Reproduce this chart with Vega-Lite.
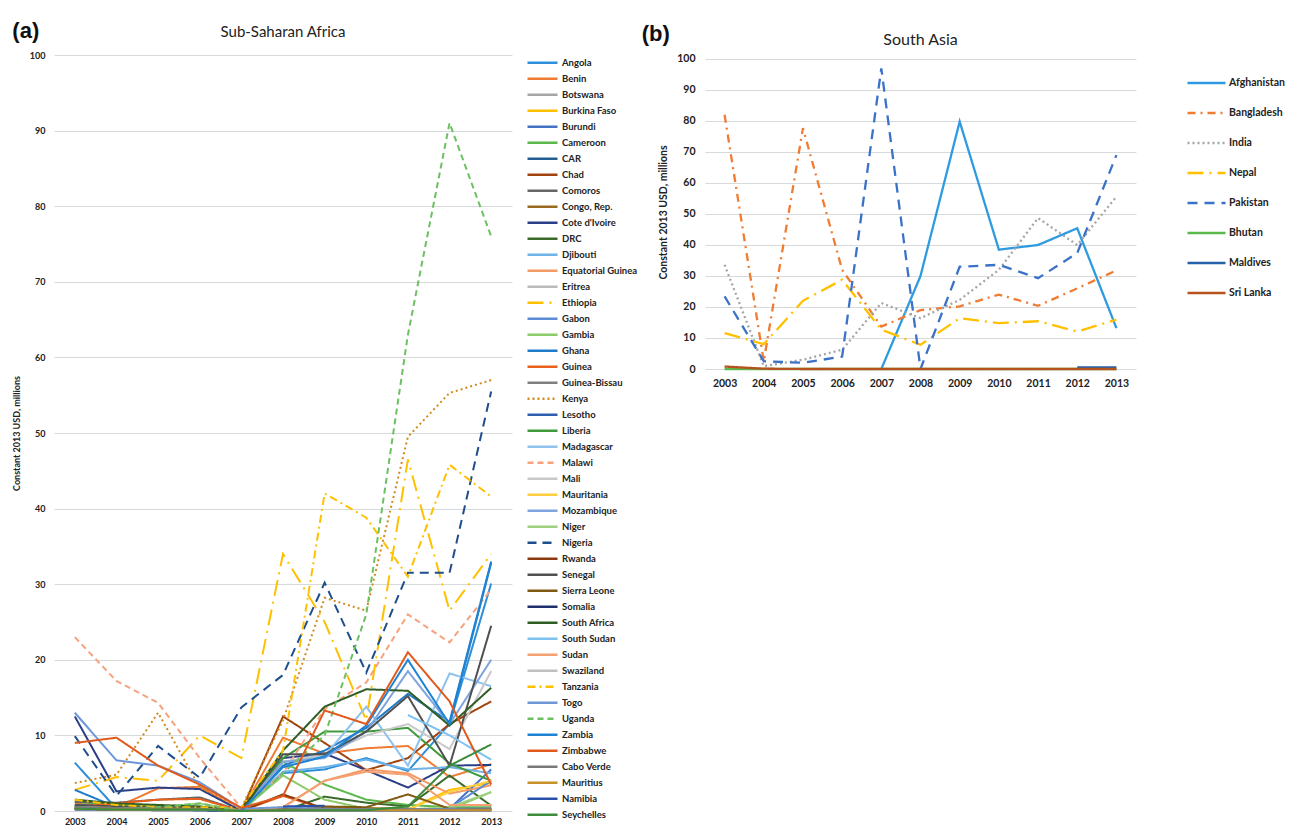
{
  "$schema": "https://vega.github.io/schema/vega-lite/v6.json",
  "background": "white",
  "padding": {"left": 12, "top": 20, "right": 0, "bottom": 0},
  "config": {
    "font": "Lato",
    "view": {"stroke": null},
    "axis": {"labelFont": "Lato", "labelFontWeight": "bold", "labelColor": "#222", "titleFont": "Lato", "titleFontWeight": "bold", "titleColor": "#222", "gridColor": "#d6dadd", "gridWidth": 1, "domain": false, "ticks": false},
    "legend": {"labelFont": "Lato", "labelFontWeight": "bold", "labelColor": "#222"},
    "title": {"font": "Lato", "color": "#222"}
  },
  "datasets": {
    "ssa": [
      {"c":"Angola","y":2003,"v":6.4},{"c":"Angola","y":2004,"v":0.3},{"c":"Angola","y":2005,"v":0.2},{"c":"Angola","y":2006,"v":0.2},{"c":"Angola","y":2007,"v":0},{"c":"Angola","y":2008,"v":5},{"c":"Angola","y":2009,"v":5.5},{"c":"Angola","y":2010,"v":7},{"c":"Angola","y":2011,"v":5.3},{"c":"Angola","y":2012,"v":11.5},{"c":"Angola","y":2013,"v":30.1},
      {"c":"Benin","y":2003,"v":1},{"c":"Benin","y":2004,"v":0.5},{"c":"Benin","y":2005,"v":3},{"c":"Benin","y":2006,"v":3.2},{"c":"Benin","y":2007,"v":0},{"c":"Benin","y":2008,"v":9.7},{"c":"Benin","y":2009,"v":7.6},{"c":"Benin","y":2010,"v":8.3},{"c":"Benin","y":2011,"v":8.6},{"c":"Benin","y":2012,"v":4.5},{"c":"Benin","y":2013,"v":6.2},
      {"c":"Botswana","y":2003,"v":0.4},{"c":"Botswana","y":2004,"v":0.3},{"c":"Botswana","y":2005,"v":0.2},{"c":"Botswana","y":2006,"v":0.3},{"c":"Botswana","y":2007,"v":0},{"c":"Botswana","y":2008,"v":0.1},{"c":"Botswana","y":2009,"v":0.1},{"c":"Botswana","y":2010,"v":0.2},{"c":"Botswana","y":2011,"v":0.1},{"c":"Botswana","y":2012,"v":0.3},{"c":"Botswana","y":2013,"v":0.4},
      {"c":"Burkina Faso","y":2003,"v":1.5},{"c":"Burkina Faso","y":2004,"v":0.8},{"c":"Burkina Faso","y":2005,"v":0.6},{"c":"Burkina Faso","y":2006,"v":0.5},{"c":"Burkina Faso","y":2007,"v":0},{"c":"Burkina Faso","y":2008,"v":0.2},{"c":"Burkina Faso","y":2009,"v":0.3},{"c":"Burkina Faso","y":2010,"v":0.2},{"c":"Burkina Faso","y":2011,"v":0.2},{"c":"Burkina Faso","y":2012,"v":2.8},{"c":"Burkina Faso","y":2013,"v":3.7},
      {"c":"Burundi","y":2003,"v":0.8},{"c":"Burundi","y":2004,"v":0.5},{"c":"Burundi","y":2005,"v":0.4},{"c":"Burundi","y":2006,"v":0.3},{"c":"Burundi","y":2007,"v":0},{"c":"Burundi","y":2008,"v":0.3},{"c":"Burundi","y":2009,"v":0.4},{"c":"Burundi","y":2010,"v":0.3},{"c":"Burundi","y":2011,"v":0.2},{"c":"Burundi","y":2012,"v":0.3},{"c":"Burundi","y":2013,"v":5.5},
      {"c":"Cameroon","y":2003,"v":1.2},{"c":"Cameroon","y":2004,"v":0.8},{"c":"Cameroon","y":2005,"v":0.5},{"c":"Cameroon","y":2006,"v":0.4},{"c":"Cameroon","y":2007,"v":0},{"c":"Cameroon","y":2008,"v":6.5},{"c":"Cameroon","y":2009,"v":3.5},{"c":"Cameroon","y":2010,"v":1.5},{"c":"Cameroon","y":2011,"v":0.8},{"c":"Cameroon","y":2012,"v":0.5},{"c":"Cameroon","y":2013,"v":0.5},
      {"c":"CAR","y":2003,"v":0.3},{"c":"CAR","y":2004,"v":0.2},{"c":"CAR","y":2005,"v":0.2},{"c":"CAR","y":2006,"v":0.1},{"c":"CAR","y":2007,"v":0},{"c":"CAR","y":2008,"v":0.2},{"c":"CAR","y":2009,"v":0.1},{"c":"CAR","y":2010,"v":0.1},{"c":"CAR","y":2011,"v":0.1},{"c":"CAR","y":2012,"v":0.1},{"c":"CAR","y":2013,"v":0.2},
      {"c":"Chad","y":2003,"v":0.5},{"c":"Chad","y":2004,"v":0.3},{"c":"Chad","y":2005,"v":0.2},{"c":"Chad","y":2006,"v":0.2},{"c":"Chad","y":2007,"v":0},{"c":"Chad","y":2008,"v":12.5},{"c":"Chad","y":2009,"v":9},{"c":"Chad","y":2010,"v":5.4},{"c":"Chad","y":2011,"v":7},{"c":"Chad","y":2012,"v":11.5},{"c":"Chad","y":2013,"v":14.5},
      {"c":"Comoros","y":2003,"v":1.2},{"c":"Comoros","y":2004,"v":1.1},{"c":"Comoros","y":2005,"v":1.5},{"c":"Comoros","y":2006,"v":1.8},{"c":"Comoros","y":2007,"v":0},{"c":"Comoros","y":2008,"v":0.3},{"c":"Comoros","y":2009,"v":0.2},{"c":"Comoros","y":2010,"v":0.2},{"c":"Comoros","y":2011,"v":0.2},{"c":"Comoros","y":2012,"v":0.3},{"c":"Comoros","y":2013,"v":0.3},
      {"c":"Congo, Rep.","y":2003,"v":0.3},{"c":"Congo, Rep.","y":2004,"v":0.2},{"c":"Congo, Rep.","y":2005,"v":0.2},{"c":"Congo, Rep.","y":2006,"v":0.2},{"c":"Congo, Rep.","y":2007,"v":0},{"c":"Congo, Rep.","y":2008,"v":0.1},{"c":"Congo, Rep.","y":2009,"v":0.5},{"c":"Congo, Rep.","y":2010,"v":0.4},{"c":"Congo, Rep.","y":2011,"v":0.3},{"c":"Congo, Rep.","y":2012,"v":0.2},{"c":"Congo, Rep.","y":2013,"v":0.2},
      {"c":"Cote d'Ivoire","y":2003,"v":12.5},{"c":"Cote d'Ivoire","y":2004,"v":2.6},{"c":"Cote d'Ivoire","y":2005,"v":3.1},{"c":"Cote d'Ivoire","y":2006,"v":2.9},{"c":"Cote d'Ivoire","y":2007,"v":0},{"c":"Cote d'Ivoire","y":2008,"v":7},{"c":"Cote d'Ivoire","y":2009,"v":7.6},{"c":"Cote d'Ivoire","y":2010,"v":5.4},{"c":"Cote d'Ivoire","y":2011,"v":3.1},{"c":"Cote d'Ivoire","y":2012,"v":6},{"c":"Cote d'Ivoire","y":2013,"v":6.1},
      {"c":"DRC","y":2003,"v":0.5},{"c":"DRC","y":2004,"v":0.3},{"c":"DRC","y":2005,"v":0.3},{"c":"DRC","y":2006,"v":0.2},{"c":"DRC","y":2007,"v":0},{"c":"DRC","y":2008,"v":0},{"c":"DRC","y":2009,"v":1.9},{"c":"DRC","y":2010,"v":1.1},{"c":"DRC","y":2011,"v":0.6},{"c":"DRC","y":2012,"v":4.7},{"c":"DRC","y":2013,"v":0.7},
      {"c":"Djibouti","y":2003,"v":0.3},{"c":"Djibouti","y":2004,"v":0.2},{"c":"Djibouti","y":2005,"v":0.2},{"c":"Djibouti","y":2006,"v":0.2},{"c":"Djibouti","y":2007,"v":0},{"c":"Djibouti","y":2008,"v":5.2},{"c":"Djibouti","y":2009,"v":5.8},{"c":"Djibouti","y":2010,"v":6.8},{"c":"Djibouti","y":2011,"v":5.5},{"c":"Djibouti","y":2012,"v":5.8},{"c":"Djibouti","y":2013,"v":5},
      {"c":"Equatorial Guinea","y":2003,"v":0.4},{"c":"Equatorial Guinea","y":2004,"v":0.3},{"c":"Equatorial Guinea","y":2005,"v":0.2},{"c":"Equatorial Guinea","y":2006,"v":0.2},{"c":"Equatorial Guinea","y":2007,"v":0},{"c":"Equatorial Guinea","y":2008,"v":0.5},{"c":"Equatorial Guinea","y":2009,"v":4},{"c":"Equatorial Guinea","y":2010,"v":5.5},{"c":"Equatorial Guinea","y":2011,"v":5},{"c":"Equatorial Guinea","y":2012,"v":2.3},{"c":"Equatorial Guinea","y":2013,"v":3.4},
      {"c":"Eritrea","y":2003,"v":0.2},{"c":"Eritrea","y":2004,"v":0.2},{"c":"Eritrea","y":2005,"v":0.1},{"c":"Eritrea","y":2006,"v":0.1},{"c":"Eritrea","y":2007,"v":0},{"c":"Eritrea","y":2008,"v":0.1},{"c":"Eritrea","y":2009,"v":0.1},{"c":"Eritrea","y":2010,"v":0.1},{"c":"Eritrea","y":2011,"v":0.1},{"c":"Eritrea","y":2012,"v":0.1},{"c":"Eritrea","y":2013,"v":0.2},
      {"c":"Ethiopia","y":2003,"v":2.8},{"c":"Ethiopia","y":2004,"v":4.5},{"c":"Ethiopia","y":2005,"v":4},{"c":"Ethiopia","y":2006,"v":10},{"c":"Ethiopia","y":2007,"v":7},{"c":"Ethiopia","y":2008,"v":34},{"c":"Ethiopia","y":2009,"v":25},{"c":"Ethiopia","y":2010,"v":12},{"c":"Ethiopia","y":2011,"v":46.5},{"c":"Ethiopia","y":2012,"v":26.5},{"c":"Ethiopia","y":2013,"v":34},
      {"c":"Gabon","y":2003,"v":0.3},{"c":"Gabon","y":2004,"v":0.2},{"c":"Gabon","y":2005,"v":0.2},{"c":"Gabon","y":2006,"v":0.1},{"c":"Gabon","y":2007,"v":0},{"c":"Gabon","y":2008,"v":0.1},{"c":"Gabon","y":2009,"v":0.1},{"c":"Gabon","y":2010,"v":0.1},{"c":"Gabon","y":2011,"v":0.1},{"c":"Gabon","y":2012,"v":0.4},{"c":"Gabon","y":2013,"v":4},
      {"c":"Gambia","y":2003,"v":0.4},{"c":"Gambia","y":2004,"v":0.3},{"c":"Gambia","y":2005,"v":0.3},{"c":"Gambia","y":2006,"v":0.6},{"c":"Gambia","y":2007,"v":0},{"c":"Gambia","y":2008,"v":4.7},{"c":"Gambia","y":2009,"v":1.5},{"c":"Gambia","y":2010,"v":0.3},{"c":"Gambia","y":2011,"v":0.2},{"c":"Gambia","y":2012,"v":0.2},{"c":"Gambia","y":2013,"v":2.5},
      {"c":"Ghana","y":2003,"v":2.8},{"c":"Ghana","y":2004,"v":0.5},{"c":"Ghana","y":2005,"v":0.3},{"c":"Ghana","y":2006,"v":0.2},{"c":"Ghana","y":2007,"v":0},{"c":"Ghana","y":2008,"v":6},{"c":"Ghana","y":2009,"v":8},{"c":"Ghana","y":2010,"v":11},{"c":"Ghana","y":2011,"v":15.5},{"c":"Ghana","y":2012,"v":11.8},{"c":"Ghana","y":2013,"v":33},
      {"c":"Guinea","y":2003,"v":0.5},{"c":"Guinea","y":2004,"v":1},{"c":"Guinea","y":2005,"v":1.5},{"c":"Guinea","y":2006,"v":1.6},{"c":"Guinea","y":2007,"v":0},{"c":"Guinea","y":2008,"v":2},{"c":"Guinea","y":2009,"v":0.3},{"c":"Guinea","y":2010,"v":0.2},{"c":"Guinea","y":2011,"v":0.2},{"c":"Guinea","y":2012,"v":0.2},{"c":"Guinea","y":2013,"v":0.3},
      {"c":"Guinea-Bissau","y":2003,"v":0.3},{"c":"Guinea-Bissau","y":2004,"v":0.2},{"c":"Guinea-Bissau","y":2005,"v":0.2},{"c":"Guinea-Bissau","y":2006,"v":0.2},{"c":"Guinea-Bissau","y":2007,"v":0},{"c":"Guinea-Bissau","y":2008,"v":0.1},{"c":"Guinea-Bissau","y":2009,"v":0.1},{"c":"Guinea-Bissau","y":2010,"v":0.1},{"c":"Guinea-Bissau","y":2011,"v":0.1},{"c":"Guinea-Bissau","y":2012,"v":0.1},{"c":"Guinea-Bissau","y":2013,"v":0.1},
      {"c":"Kenya","y":2003,"v":3.7},{"c":"Kenya","y":2004,"v":4.8},{"c":"Kenya","y":2005,"v":13},{"c":"Kenya","y":2006,"v":3.1},{"c":"Kenya","y":2007,"v":0.4},{"c":"Kenya","y":2008,"v":12},{"c":"Kenya","y":2009,"v":28.2},{"c":"Kenya","y":2010,"v":26.5},{"c":"Kenya","y":2011,"v":49.5},{"c":"Kenya","y":2012,"v":55.3},{"c":"Kenya","y":2013,"v":57},
      {"c":"Lesotho","y":2003,"v":0.3},{"c":"Lesotho","y":2004,"v":0.2},{"c":"Lesotho","y":2005,"v":0.2},{"c":"Lesotho","y":2006,"v":0.2},{"c":"Lesotho","y":2007,"v":0},{"c":"Lesotho","y":2008,"v":0.1},{"c":"Lesotho","y":2009,"v":0.1},{"c":"Lesotho","y":2010,"v":0.1},{"c":"Lesotho","y":2011,"v":0.1},{"c":"Lesotho","y":2012,"v":0.1},{"c":"Lesotho","y":2013,"v":0.1},
      {"c":"Liberia","y":2003,"v":0.6},{"c":"Liberia","y":2004,"v":0.4},{"c":"Liberia","y":2005,"v":0.3},{"c":"Liberia","y":2006,"v":0.3},{"c":"Liberia","y":2007,"v":0},{"c":"Liberia","y":2008,"v":7},{"c":"Liberia","y":2009,"v":10.5},{"c":"Liberia","y":2010,"v":10.5},{"c":"Liberia","y":2011,"v":11},{"c":"Liberia","y":2012,"v":6.3},{"c":"Liberia","y":2013,"v":4},
      {"c":"Madagascar","y":2003,"v":0.5},{"c":"Madagascar","y":2004,"v":0.3},{"c":"Madagascar","y":2005,"v":0.3},{"c":"Madagascar","y":2006,"v":0.3},{"c":"Madagascar","y":2007,"v":0},{"c":"Madagascar","y":2008,"v":6.5},{"c":"Madagascar","y":2009,"v":7.3},{"c":"Madagascar","y":2010,"v":13.8},{"c":"Madagascar","y":2011,"v":6},{"c":"Madagascar","y":2012,"v":18.2},{"c":"Madagascar","y":2013,"v":16.5},
      {"c":"Malawi","y":2003,"v":23},{"c":"Malawi","y":2004,"v":17.2},{"c":"Malawi","y":2005,"v":14.3},{"c":"Malawi","y":2006,"v":7},{"c":"Malawi","y":2007,"v":0.4},{"c":"Malawi","y":2008,"v":5},{"c":"Malawi","y":2009,"v":13.5},{"c":"Malawi","y":2010,"v":17},{"c":"Malawi","y":2011,"v":26},{"c":"Malawi","y":2012,"v":22.3},{"c":"Malawi","y":2013,"v":29.3},
      {"c":"Mali","y":2003,"v":0.5},{"c":"Mali","y":2004,"v":0.3},{"c":"Mali","y":2005,"v":0.3},{"c":"Mali","y":2006,"v":0.3},{"c":"Mali","y":2007,"v":0},{"c":"Mali","y":2008,"v":6.5},{"c":"Mali","y":2009,"v":7.5},{"c":"Mali","y":2010,"v":10},{"c":"Mali","y":2011,"v":11.5},{"c":"Mali","y":2012,"v":8.2},{"c":"Mali","y":2013,"v":18.5},
      {"c":"Mauritania","y":2003,"v":0.6},{"c":"Mauritania","y":2004,"v":0.4},{"c":"Mauritania","y":2005,"v":0.3},{"c":"Mauritania","y":2006,"v":0.3},{"c":"Mauritania","y":2007,"v":0},{"c":"Mauritania","y":2008,"v":0.2},{"c":"Mauritania","y":2009,"v":0.2},{"c":"Mauritania","y":2010,"v":0.2},{"c":"Mauritania","y":2011,"v":0.2},{"c":"Mauritania","y":2012,"v":2.5},{"c":"Mauritania","y":2013,"v":4},
      {"c":"Mozambique","y":2003,"v":0.5},{"c":"Mozambique","y":2004,"v":0.3},{"c":"Mozambique","y":2005,"v":0.3},{"c":"Mozambique","y":2006,"v":0.2},{"c":"Mozambique","y":2007,"v":0},{"c":"Mozambique","y":2008,"v":6.5},{"c":"Mozambique","y":2009,"v":7},{"c":"Mozambique","y":2010,"v":10.5},{"c":"Mozambique","y":2011,"v":18.5},{"c":"Mozambique","y":2012,"v":11.5},{"c":"Mozambique","y":2013,"v":20},
      {"c":"Niger","y":2003,"v":0.4},{"c":"Niger","y":2004,"v":0.3},{"c":"Niger","y":2005,"v":0.5},{"c":"Niger","y":2006,"v":1},{"c":"Niger","y":2007,"v":0},{"c":"Niger","y":2008,"v":0.3},{"c":"Niger","y":2009,"v":0.2},{"c":"Niger","y":2010,"v":0.2},{"c":"Niger","y":2011,"v":0.2},{"c":"Niger","y":2012,"v":0.5},{"c":"Niger","y":2013,"v":2.5},
      {"c":"Nigeria","y":2003,"v":9.9},{"c":"Nigeria","y":2004,"v":2},{"c":"Nigeria","y":2005,"v":8.6},{"c":"Nigeria","y":2006,"v":4.4},{"c":"Nigeria","y":2007,"v":13.7},{"c":"Nigeria","y":2008,"v":18},{"c":"Nigeria","y":2009,"v":30.2},{"c":"Nigeria","y":2010,"v":18.3},{"c":"Nigeria","y":2011,"v":31.5},{"c":"Nigeria","y":2012,"v":31.5},{"c":"Nigeria","y":2013,"v":55.5},
      {"c":"Rwanda","y":2003,"v":0.3},{"c":"Rwanda","y":2004,"v":0.2},{"c":"Rwanda","y":2005,"v":0.2},{"c":"Rwanda","y":2006,"v":0.2},{"c":"Rwanda","y":2007,"v":0},{"c":"Rwanda","y":2008,"v":2.2},{"c":"Rwanda","y":2009,"v":0.3},{"c":"Rwanda","y":2010,"v":0.2},{"c":"Rwanda","y":2011,"v":0.2},{"c":"Rwanda","y":2012,"v":0.2},{"c":"Rwanda","y":2013,"v":0.2},
      {"c":"Senegal","y":2003,"v":0.8},{"c":"Senegal","y":2004,"v":0.6},{"c":"Senegal","y":2005,"v":0.5},{"c":"Senegal","y":2006,"v":0.5},{"c":"Senegal","y":2007,"v":0},{"c":"Senegal","y":2008,"v":7.5},{"c":"Senegal","y":2009,"v":7.5},{"c":"Senegal","y":2010,"v":10.5},{"c":"Senegal","y":2011,"v":15.2},{"c":"Senegal","y":2012,"v":6},{"c":"Senegal","y":2013,"v":24.5},
      {"c":"Sierra Leone","y":2003,"v":0.3},{"c":"Sierra Leone","y":2004,"v":0.2},{"c":"Sierra Leone","y":2005,"v":0.2},{"c":"Sierra Leone","y":2006,"v":0.2},{"c":"Sierra Leone","y":2007,"v":0},{"c":"Sierra Leone","y":2008,"v":0.3},{"c":"Sierra Leone","y":2009,"v":0.6},{"c":"Sierra Leone","y":2010,"v":0.5},{"c":"Sierra Leone","y":2011,"v":2.2},{"c":"Sierra Leone","y":2012,"v":0.3},{"c":"Sierra Leone","y":2013,"v":0.2},
      {"c":"Somalia","y":2003,"v":0.2},{"c":"Somalia","y":2004,"v":0.2},{"c":"Somalia","y":2005,"v":0.1},{"c":"Somalia","y":2006,"v":0.1},{"c":"Somalia","y":2007,"v":0},{"c":"Somalia","y":2008,"v":0.1},{"c":"Somalia","y":2009,"v":0.1},{"c":"Somalia","y":2010,"v":0.1},{"c":"Somalia","y":2011,"v":0.1},{"c":"Somalia","y":2012,"v":0.1},{"c":"Somalia","y":2013,"v":0.1},
      {"c":"South Africa","y":2003,"v":1.5},{"c":"South Africa","y":2004,"v":1},{"c":"South Africa","y":2005,"v":0.8},{"c":"South Africa","y":2006,"v":0.6},{"c":"South Africa","y":2007,"v":0},{"c":"South Africa","y":2008,"v":8},{"c":"South Africa","y":2009,"v":13.8},{"c":"South Africa","y":2010,"v":16.1},{"c":"South Africa","y":2011,"v":15.9},{"c":"South Africa","y":2012,"v":11.3},{"c":"South Africa","y":2013,"v":16.3},
      {"c":"South Sudan","y":2011,"v":12.7},{"c":"South Sudan","y":2012,"v":10},{"c":"South Sudan","y":2013,"v":6.8},
      {"c":"Sudan","y":2003,"v":0.5},{"c":"Sudan","y":2004,"v":0.4},{"c":"Sudan","y":2005,"v":0.3},{"c":"Sudan","y":2006,"v":0.3},{"c":"Sudan","y":2007,"v":0},{"c":"Sudan","y":2008,"v":0.5},{"c":"Sudan","y":2009,"v":4},{"c":"Sudan","y":2010,"v":5.2},{"c":"Sudan","y":2011,"v":4.8},{"c":"Sudan","y":2012,"v":0.8},{"c":"Sudan","y":2013,"v":0.8},
      {"c":"Swaziland","y":2003,"v":0.3},{"c":"Swaziland","y":2004,"v":0.2},{"c":"Swaziland","y":2005,"v":0.2},{"c":"Swaziland","y":2006,"v":0.2},{"c":"Swaziland","y":2007,"v":0},{"c":"Swaziland","y":2008,"v":0.1},{"c":"Swaziland","y":2009,"v":0.1},{"c":"Swaziland","y":2010,"v":0.1},{"c":"Swaziland","y":2011,"v":0.1},{"c":"Swaziland","y":2012,"v":0.2},{"c":"Swaziland","y":2013,"v":0.3},
      {"c":"Tanzania","y":2003,"v":1.5},{"c":"Tanzania","y":2004,"v":0.8},{"c":"Tanzania","y":2005,"v":0.5},{"c":"Tanzania","y":2006,"v":0.5},{"c":"Tanzania","y":2007,"v":0.5},{"c":"Tanzania","y":2008,"v":8},{"c":"Tanzania","y":2009,"v":42},{"c":"Tanzania","y":2010,"v":38.8},{"c":"Tanzania","y":2011,"v":31},{"c":"Tanzania","y":2012,"v":45.8},{"c":"Tanzania","y":2013,"v":41.6},
      {"c":"Togo","y":2003,"v":13},{"c":"Togo","y":2004,"v":6.7},{"c":"Togo","y":2005,"v":6},{"c":"Togo","y":2006,"v":3.8},{"c":"Togo","y":2007,"v":0.3},{"c":"Togo","y":2008,"v":0.5},{"c":"Togo","y":2009,"v":0.3},{"c":"Togo","y":2010,"v":0.2},{"c":"Togo","y":2011,"v":0.2},{"c":"Togo","y":2012,"v":0.3},{"c":"Togo","y":2013,"v":0.3},
      {"c":"Uganda","y":2003,"v":0.5},{"c":"Uganda","y":2004,"v":0.3},{"c":"Uganda","y":2005,"v":0.5},{"c":"Uganda","y":2006,"v":1},{"c":"Uganda","y":2007,"v":0},{"c":"Uganda","y":2008,"v":5},{"c":"Uganda","y":2009,"v":10},{"c":"Uganda","y":2010,"v":26},{"c":"Uganda","y":2011,"v":63},{"c":"Uganda","y":2012,"v":91},{"c":"Uganda","y":2013,"v":76},
      {"c":"Zambia","y":2003,"v":0.5},{"c":"Zambia","y":2004,"v":0.3},{"c":"Zambia","y":2005,"v":0.2},{"c":"Zambia","y":2006,"v":0.2},{"c":"Zambia","y":2007,"v":0},{"c":"Zambia","y":2008,"v":5.8},{"c":"Zambia","y":2009,"v":7.2},{"c":"Zambia","y":2010,"v":11.3},{"c":"Zambia","y":2011,"v":20},{"c":"Zambia","y":2012,"v":11.5},{"c":"Zambia","y":2013,"v":32.8},
      {"c":"Zimbabwe","y":2003,"v":9},{"c":"Zimbabwe","y":2004,"v":9.7},{"c":"Zimbabwe","y":2005,"v":6},{"c":"Zimbabwe","y":2006,"v":3.5},{"c":"Zimbabwe","y":2007,"v":0.4},{"c":"Zimbabwe","y":2008,"v":2},{"c":"Zimbabwe","y":2009,"v":13.3},{"c":"Zimbabwe","y":2010,"v":11.5},{"c":"Zimbabwe","y":2011,"v":21},{"c":"Zimbabwe","y":2012,"v":14.5},{"c":"Zimbabwe","y":2013,"v":3.5},
      {"c":"Cabo Verde","y":2003,"v":0.5},{"c":"Cabo Verde","y":2004,"v":0.4},{"c":"Cabo Verde","y":2005,"v":0.3},{"c":"Cabo Verde","y":2006,"v":0.3},{"c":"Cabo Verde","y":2007,"v":0},{"c":"Cabo Verde","y":2008,"v":0.2},{"c":"Cabo Verde","y":2009,"v":0.2},{"c":"Cabo Verde","y":2010,"v":0.2},{"c":"Cabo Verde","y":2011,"v":0.2},{"c":"Cabo Verde","y":2012,"v":0.2},{"c":"Cabo Verde","y":2013,"v":0.3},
      {"c":"Mauritius","y":2003,"v":0.3},{"c":"Mauritius","y":2004,"v":0.2},{"c":"Mauritius","y":2005,"v":0.2},{"c":"Mauritius","y":2006,"v":0.2},{"c":"Mauritius","y":2007,"v":0},{"c":"Mauritius","y":2008,"v":0.1},{"c":"Mauritius","y":2009,"v":0.1},{"c":"Mauritius","y":2010,"v":0.1},{"c":"Mauritius","y":2011,"v":0.1},{"c":"Mauritius","y":2012,"v":0.1},{"c":"Mauritius","y":2013,"v":0.1},
      {"c":"Namibia","y":2008,"v":0.6},{"c":"Namibia","y":2009,"v":0.7},
      {"c":"Seychelles","y":2003,"v":0.3},{"c":"Seychelles","y":2004,"v":0.2},{"c":"Seychelles","y":2005,"v":0.2},{"c":"Seychelles","y":2006,"v":0.2},{"c":"Seychelles","y":2007,"v":0},{"c":"Seychelles","y":2008,"v":0.1},{"c":"Seychelles","y":2009,"v":0.1},{"c":"Seychelles","y":2010,"v":0.1},{"c":"Seychelles","y":2011,"v":0.6},{"c":"Seychelles","y":2012,"v":6},{"c":"Seychelles","y":2013,"v":8.8}
    ],
    "sa": [
      {"c":"Afghanistan","y":2007,"v":0},{"c":"Afghanistan","y":2008,"v":30},{"c":"Afghanistan","y":2009,"v":79.8},{"c":"Afghanistan","y":2010,"v":38.5},{"c":"Afghanistan","y":2011,"v":40},{"c":"Afghanistan","y":2012,"v":45.4},{"c":"Afghanistan","y":2013,"v":13.2},
      {"c":"Bangladesh","y":2003,"v":82},{"c":"Bangladesh","y":2004,"v":2.5},{"c":"Bangladesh","y":2005,"v":77.7},{"c":"Bangladesh","y":2006,"v":32},{"c":"Bangladesh","y":2007,"v":13.7},{"c":"Bangladesh","y":2008,"v":19},{"c":"Bangladesh","y":2009,"v":20.2},{"c":"Bangladesh","y":2010,"v":24},{"c":"Bangladesh","y":2011,"v":20.4},{"c":"Bangladesh","y":2012,"v":26},{"c":"Bangladesh","y":2013,"v":31.8},
      {"c":"India","y":2003,"v":33.6},{"c":"India","y":2004,"v":0.9},{"c":"India","y":2005,"v":3},{"c":"India","y":2006,"v":6.2},{"c":"India","y":2007,"v":21.3},{"c":"India","y":2008,"v":16.4},{"c":"India","y":2009,"v":22.3},{"c":"India","y":2010,"v":32},{"c":"India","y":2011,"v":48.7},{"c":"India","y":2012,"v":40},{"c":"India","y":2013,"v":55.6},
      {"c":"Nepal","y":2003,"v":11.6},{"c":"Nepal","y":2004,"v":8},{"c":"Nepal","y":2005,"v":22},{"c":"Nepal","y":2006,"v":28.8},{"c":"Nepal","y":2007,"v":12.7},{"c":"Nepal","y":2008,"v":7.8},{"c":"Nepal","y":2009,"v":16.4},{"c":"Nepal","y":2010,"v":14.8},{"c":"Nepal","y":2011,"v":15.4},{"c":"Nepal","y":2012,"v":12.1},{"c":"Nepal","y":2013,"v":15.9},
      {"c":"Pakistan","y":2003,"v":23.4},{"c":"Pakistan","y":2004,"v":2.5},{"c":"Pakistan","y":2005,"v":2},{"c":"Pakistan","y":2006,"v":4},{"c":"Pakistan","y":2007,"v":97},{"c":"Pakistan","y":2008,"v":0},{"c":"Pakistan","y":2009,"v":33},{"c":"Pakistan","y":2010,"v":33.6},{"c":"Pakistan","y":2011,"v":29.3},{"c":"Pakistan","y":2012,"v":37.4},{"c":"Pakistan","y":2013,"v":69},
      {"c":"Bhutan","y":2003,"v":0},{"c":"Bhutan","y":2004,"v":0},{"c":"Bhutan","y":2005,"v":0},{"c":"Bhutan","y":2006,"v":0},{"c":"Bhutan","y":2007,"v":0},{"c":"Bhutan","y":2008,"v":0},{"c":"Bhutan","y":2009,"v":0},{"c":"Bhutan","y":2010,"v":0},{"c":"Bhutan","y":2011,"v":0},{"c":"Bhutan","y":2012,"v":0},{"c":"Bhutan","y":2013,"v":0},
      {"c":"Maldives","y":2012,"v":0.5},{"c":"Maldives","y":2013,"v":0.5},
      {"c":"Sri Lanka","y":2003,"v":0.8},{"c":"Sri Lanka","y":2004,"v":0.1},{"c":"Sri Lanka","y":2005,"v":0},{"c":"Sri Lanka","y":2006,"v":0},{"c":"Sri Lanka","y":2007,"v":0},{"c":"Sri Lanka","y":2008,"v":0},{"c":"Sri Lanka","y":2009,"v":0},{"c":"Sri Lanka","y":2010,"v":0},{"c":"Sri Lanka","y":2011,"v":0},{"c":"Sri Lanka","y":2012,"v":0},{"c":"Sri Lanka","y":2013,"v":0}
    ]
  },
  "hconcat": [
    {
      "title": {"text": "(a)", "anchor": "start", "frame": "bounds", "font": "Liberation Sans", "fontSize": 22, "fontWeight": "bold", "color": "#111", "baseline": "bottom", "offset": -20, "dy": 20},
      "hconcat": [
        {
          "title": {"text": "Sub-Saharan Africa", "fontSize": 15, "fontWeight": "normal", "anchor": "middle", "offset": 11},
          "width": 458,
          "height": 756,
          "data": {"name": "ssa"},
          "mark": {"type": "line", "strokeWidth": 2},
          "encoding": {
            "x": {"field": "y", "type": "ordinal", "scale": {"type": "point", "padding": 0.5}, "axis": {"title": null, "labelAngle": 0, "labelFontSize": 9, "labelPadding": 6, "grid": false}},
            "y": {"field": "v", "type": "quantitative", "scale": {"domain": [0, 100], "nice": false}, "axis": {"values": [0,10,20,30,40,50,60,70,80,90,100], "title": "Constant 2013 USD, millions", "titleFontSize": 9, "labelFontSize": 9, "labelPadding": 9, "titlePadding": 8}},
            "color": {
              "field": "c", "type": "nominal",
              "scale": {
                "domain": ["Angola","Benin","Botswana","Burkina Faso","Burundi","Cameroon","CAR","Chad","Comoros","Congo, Rep.","Cote d'Ivoire","DRC","Djibouti","Equatorial Guinea","Eritrea","Ethiopia","Gabon","Gambia","Ghana","Guinea","Guinea-Bissau","Kenya","Lesotho","Liberia","Madagascar","Malawi","Mali","Mauritania","Mozambique","Niger","Nigeria","Rwanda","Senegal","Sierra Leone","Somalia","South Africa","South Sudan","Sudan","Swaziland","Tanzania","Togo","Uganda","Zambia","Zimbabwe","Cabo Verde","Mauritius","Namibia","Seychelles"],
                "range": ["#2E8FDA","#F07B32","#A5A5A5","#FFC000","#4472C4","#5BB84A","#255E91","#A0430E","#666666","#9A6B1E","#2A3F87","#3B6B2A","#6FB3E8","#F39A66","#BBBBBB","#FFC000","#5C8CD6","#8CCB6A","#1E7BC8","#E8601C","#808080","#D08A1E","#2F5FB0","#3F9A3C","#8EC2EC","#F6A27E","#C8C8C8","#FFCF3F","#7FA4DE","#9ED07E","#1F4E8C","#8B3A10","#505050","#7F5A12","#1F2F6E","#2E5E23","#7EC0EE","#F5A070","#C0C0C0","#FFC000","#6E97D8","#6CC061","#1F83D4","#E05A1E","#7A7A7A","#C8922A","#2850A8","#3C8C3C"]
              },
              "legend": {"title": null, "orient": "right", "offset": 14, "padding": 0, "symbolType": "stroke", "symbolSize": 900, "symbolStrokeWidth": 2.5, "clipHeight": 15.3, "rowPadding": 0, "labelFontSize": 9.5, "labelOffset": 3, "symbolLimit": 60, "labelLimit": 200}
            },
            "strokeDash": {
              "field": "c", "type": "nominal",
              "scale": {
                "domain": ["Angola","Benin","Botswana","Burkina Faso","Burundi","Cameroon","CAR","Chad","Comoros","Congo, Rep.","Cote d'Ivoire","DRC","Djibouti","Equatorial Guinea","Eritrea","Ethiopia","Gabon","Gambia","Ghana","Guinea","Guinea-Bissau","Kenya","Lesotho","Liberia","Madagascar","Malawi","Mali","Mauritania","Mozambique","Niger","Nigeria","Rwanda","Senegal","Sierra Leone","Somalia","South Africa","South Sudan","Sudan","Swaziland","Tanzania","Togo","Uganda","Zambia","Zimbabwe","Cabo Verde","Mauritius","Namibia","Seychelles"],
                "range": [[1,0],[1,0],[1,0],[1,0],[1,0],[1,0],[1,0],[1,0],[1,0],[1,0],[1,0],[1,0],[1,0],[1,0],[1,0],[16,6,2,6],[1,0],[1,0],[1,0],[1,0],[1,0],[2,3],[1,0],[1,0],[1,0],[6,4],[1,0],[1,0],[1,0],[1,0],[9,6],[1,0],[1,0],[1,0],[1,0],[1,0],[1,0],[1,0],[1,0],[8,4,2,4],[1,0],[6,4],[1,0],[1,0],[1,0],[1,0],[1,0],[1,0]]
              },
              "legend": {"title": null, "orient": "right", "offset": 14, "padding": 0, "symbolType": "stroke", "symbolSize": 900, "symbolStrokeWidth": 2.5, "clipHeight": 15.3, "rowPadding": 0, "labelFontSize": 9.5, "labelOffset": 3, "symbolLimit": 60, "labelLimit": 200}
            }
          }
        }
      ]
    },
    {
      "title": {"text": "(b)", "anchor": "start", "frame": "bounds", "font": "Liberation Sans", "fontSize": 22, "fontWeight": "bold", "color": "#111", "baseline": "bottom", "offset": -20, "dy": 16, "dx": -17},
      "hconcat": [
        {
          "title": {"text": "South Asia", "fontSize": 16, "fontWeight": "normal", "anchor": "middle", "offset": 6},
          "width": 431,
          "height": 314,
          "data": {"name": "sa"},
          "mark": {"type": "line", "strokeWidth": 2.3},
          "encoding": {
            "x": {"field": "y", "type": "ordinal", "scale": {"type": "point", "padding": 0.5}, "axis": {"title": null, "labelAngle": 0, "labelFontSize": 10.5, "labelPadding": 9, "grid": false}},
            "y": {"field": "v", "type": "quantitative", "scale": {"domain": [0, 101.29], "nice": false}, "axis": {"values": [0,10,20,30,40,50,60,70,80,90,100], "title": "Constant 2013 USD, millions", "titleFontSize": 10.5, "labelFontSize": 10.5, "labelPadding": 10, "titlePadding": 8}},
            "color": {
              "field": "c", "type": "nominal",
              "scale": {"domain": ["Afghanistan","Bangladesh","India","Nepal","Pakistan","Bhutan","Maldives","Sri Lanka"], "range": ["#2E9BE0","#F07B32","#A5A5A5","#FFC000","#3B72C8","#5BB84A","#2560A8","#B5521E"]},
              "legend": {"title": null, "orient": "right", "offset": 37, "padding": 13, "symbolType": "stroke", "symbolSize": 1444, "symbolStrokeWidth": 2.5, "clipHeight": 30, "rowPadding": 0, "labelFontSize": 10.5, "labelOffset": 2, "labelLimit": 200}
            },
            "strokeDash": {
              "field": "c", "type": "nominal",
              "scale": {"domain": ["Afghanistan","Bangladesh","India","Nepal","Pakistan","Bhutan","Maldives","Sri Lanka"], "range": [[1,0],[8,5,2,5],[2,3],[16,6,2,6],[10,7],[1,0],[1,0],[1,0]]},
              "legend": {"title": null, "orient": "right", "offset": 37, "padding": 13, "symbolType": "stroke", "symbolSize": 1444, "symbolStrokeWidth": 2.5, "clipHeight": 30, "rowPadding": 0, "labelFontSize": 10.5, "labelOffset": 2, "labelLimit": 200}
            }
          }
        }
      ]
    }
  ],
  "spacing": 3,
  "resolve": {"scale": {"color": "independent", "strokeDash": "independent", "x": "independent", "y": "independent"}}
}
